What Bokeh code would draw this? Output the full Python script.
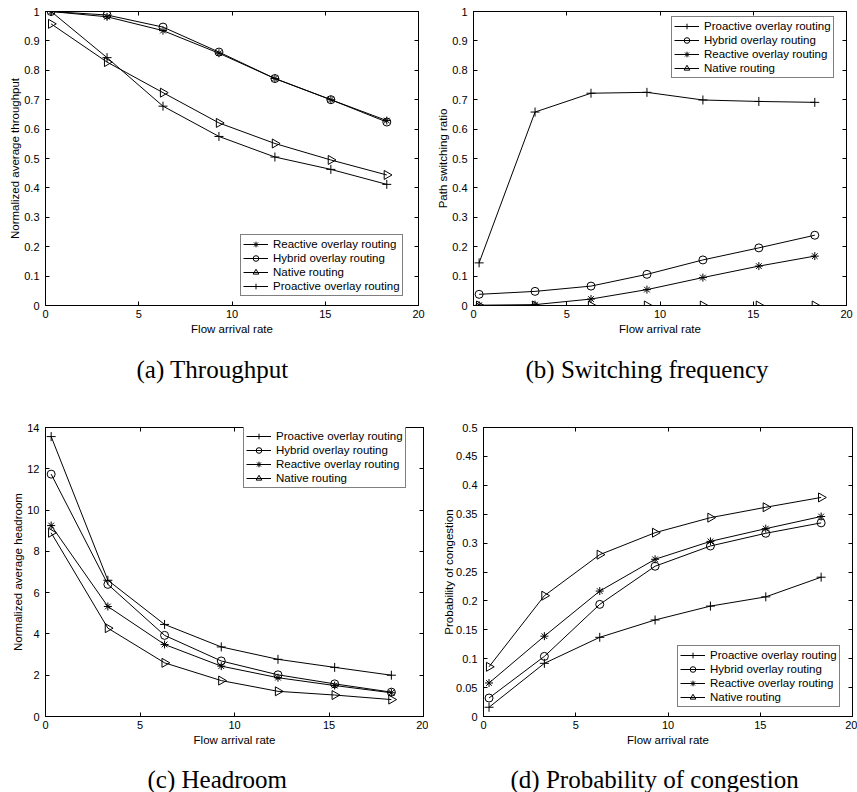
import numpy as np
from bokeh.plotting import figure
from bokeh.models import (Range1d, FixedTicker, LinearAxis, Legend, LegendItem,
                          Title, CustomJSTickFormatter)
from bokeh.layouts import column, row
from bokeh.embed import file_html
from bokeh.resources import INLINE

# ---------------- data ----------------
rate = [0.3, 3.3, 6.3, 9.3, 12.3, 15.3, 18.3]

thr_reactive = [1.0, 0.982, 0.935, 0.858, 0.772, 0.700, 0.629]
thr_hybrid = [1.0, 0.988, 0.947, 0.862, 0.772, 0.700, 0.624]
thr_native = [0.958, 0.828, 0.724, 0.621, 0.551, 0.495, 0.444]
thr_proactive = [1.0, 0.843, 0.678, 0.575, 0.505, 0.463, 0.412]

sw_proactive = [0.145, 0.658, 0.722, 0.725, 0.699, 0.694, 0.691]
sw_hybrid = [0.038, 0.048, 0.066, 0.106, 0.155, 0.196, 0.239]
sw_reactive = [0.001, 0.003, 0.022, 0.054, 0.095, 0.134, 0.168]
sw_native = [0.0, 0.0, 0.0, 0.0, 0.0, 0.0, 0.0]

hr_proactive = [13.56, 6.60, 4.46, 3.37, 2.77, 2.38, 2.00]
hr_hybrid = [11.74, 6.40, 3.93, 2.69, 2.02, 1.58, 1.18]
hr_reactive = [9.25, 5.33, 3.49, 2.44, 1.88, 1.50, 1.15]
hr_native = [8.90, 4.28, 2.60, 1.74, 1.22, 1.04, 0.82]

pc_proactive = [0.016, 0.092, 0.137, 0.167, 0.191, 0.207, 0.241]
pc_hybrid = [0.032, 0.104, 0.194, 0.260, 0.295, 0.317, 0.335]
pc_reactive = [0.058, 0.139, 0.217, 0.272, 0.303, 0.325, 0.346]
pc_native = [0.086, 0.209, 0.280, 0.318, 0.344, 0.362, 0.379]

x_ticks = [0, 5, 10, 15, 20]
y_ticks_ratio = [0, 0.1, 0.2, 0.3, 0.4, 0.5, 0.6, 0.7, 0.8, 0.9, 1]
y_labels_ratio = ["0", "0.1", "0.2", "0.3", "0.4", "0.5", "0.6", "0.7", "0.8", "0.9", "1"]
y_ticks_head = [0, 2, 4, 6, 8, 10, 12, 14]
y_labels_head = ["0", "2", "4", "6", "8", "10", "12", "14"]
y_ticks_prob = [0, 0.05, 0.1, 0.15, 0.2, 0.25, 0.3, 0.35, 0.4, 0.45, 0.5]
y_labels_prob = ["0", "0.05", "0.1", "0.15", "0.2", "0.25", "0.3", "0.35", "0.4", "0.45", "0.5"]

name_pro = "Proactive overlay routing"
name_hyb = "Hybrid overlay routing"
name_rea = "Reactive overlay routing"
name_nat = "Native routing"

SANS = "Liberation Sans"
SERIF = "Liberation Serif"

marker_styles = {
    "cross": dict(marker="cross", size=9),
    "circle": dict(marker="circle", size=8),
    "asterisk": dict(marker="asterisk", size=8),
    "triangle": dict(marker="triangle", size=9, angle=-np.pi / 2),
}


def make_panel(series, ylab, yrange, yticks, ylabels, caption, cap_offset, cap_gap,
               size, borders, leg_loc, ylab_standoff):
    w, h = size
    bl, br, bt, bb = borders
    p = figure(width=w, height=h, x_range=Range1d(0, 20), y_range=Range1d(*yrange),
               output_backend="svg", toolbar_location=None,
               min_border_left=bl, min_border_right=br,
               min_border_top=bt, min_border_bottom=bb)
    p.title.visible = False
    p.xgrid.visible = False
    p.ygrid.visible = False
    p.outline_line_color = "black"
    p.outline_line_width = 1
    p.background_fill_color = "white"
    p.border_fill_color = "white"

    xa = p.xaxis[0]
    xa.ticker = FixedTicker(ticks=x_ticks)
    xa.axis_label = "Flow arrival rate"
    ya = p.yaxis[0]
    ya.ticker = FixedTicker(ticks=yticks)
    ya.major_label_overrides = dict(zip(yticks, ylabels))
    ya.axis_label = ylab
    for ax, st in ((xa, 4), (ya, 6)):
        ax.major_tick_in = 4
        ax.major_tick_out = 0
        ax.minor_tick_in = 0
        ax.minor_tick_out = 0
        ax.axis_line_color = "black"
        ax.major_tick_line_color = "black"
        ax.major_label_text_font = SANS
        ax.major_label_text_font_size = "11px"
        ax.major_label_text_color = "black"
        ax.major_label_standoff = st
        ax.axis_label_text_font = SANS
        ax.axis_label_text_font_size = "11.5px"
        ax.axis_label_text_font_style = "normal"
        ax.axis_label_text_color = "black"
    xa.axis_label_standoff = 2
    ya.axis_label_standoff = ylab_standoff

    blank = CustomJSTickFormatter(code="return '';")
    for loc, ticks in (("above", x_ticks), ("right", yticks)):
        ax = LinearAxis(ticker=FixedTicker(ticks=ticks), formatter=blank,
                        major_tick_in=4, major_tick_out=0,
                        minor_tick_in=0, minor_tick_out=0,
                        major_label_standoff=0, axis_line_color="black",
                        major_tick_line_color="black")
        p.add_layout(ax, loc)

    items = []
    for label, vals, mk in series:
        lr = p.line(rate, vals, line_color="black", line_width=1)
        sr = p.scatter(rate, vals, line_color="black", fill_color=None,
                       line_width=1, **marker_styles[mk])
        items.append(LegendItem(label=label, renderers=[lr, sr]))
    leg = Legend(items=items, location=leg_loc,
                 border_line_color="black", border_line_width=1,
                 background_fill_color="white", background_fill_alpha=1,
                 label_text_font=SANS, label_text_font_size="11.5px",
                 label_text_color="black",
                 glyph_width=25, glyph_height=14, label_height=13,
                 label_standoff=5, spacing=0, padding=2, margin=0)
    p.add_layout(leg)

    # invisible spacer between the x axis and the caption
    spacer = LinearAxis(ticker=FixedTicker(ticks=x_ticks), formatter=blank,
                        major_tick_in=0, major_tick_out=cap_gap,
                        minor_tick_in=0, minor_tick_out=0,
                        major_tick_line_color=None, axis_line_color=None,
                        major_label_standoff=0, major_label_text_font_size="0px")
    p.add_layout(spacer, "below")
    p.add_layout(Title(text=caption, align="left", offset=cap_offset,
                       text_font=SERIF, text_font_size="25px",
                       text_font_style="normal", text_color="black",
                       standoff=0), "below")
    return p


pa = make_panel(
    [(name_rea, thr_reactive, "asterisk"), (name_hyb, thr_hybrid, "circle"),
     (name_nat, thr_native, "triangle"), (name_pro, thr_proactive, "cross")],
    "Normalized average throughput", (0, 1), y_ticks_ratio, y_labels_ratio,
    "(a) Throughput", 91, 16, (428, 400), (45, 10, 11, 95), (195, 9), 0)

pb = make_panel(
    [(name_pro, sw_proactive, "cross"), (name_hyb, sw_hybrid, "circle"),
     (name_rea, sw_reactive, "asterisk"), (name_nat, sw_native, "triangle")],
    "Path switching ratio", (0, 1), y_ticks_ratio, y_labels_ratio,
    "(b) Switching frequency", 52, 16, (429, 400), (45, 11, 11, 95), (198, 227), 0)

pc = make_panel(
    [(name_pro, hr_proactive, "cross"), (name_hyb, hr_hybrid, "circle"),
     (name_rea, hr_reactive, "asterisk"), (name_nat, hr_native, "triangle")],
    "Normalized average headroom", (0, 14), y_ticks_head, y_labels_head,
    "(c) Headroom", 102, 15, (428, 392), (45, 5, 20, 76), (198, 228), 0)

pd_ = make_panel(
    [(name_pro, pc_proactive, "cross"), (name_hyb, pc_hybrid, "circle"),
     (name_rea, pc_reactive, "asterisk"), (name_nat, pc_native, "triangle")],
    "Probability of congestion", (0, 0.5), y_ticks_prob, y_labels_prob,
    "(d) Probability of congestion", 27, 15, (429, 392), (55, 5, 27, 75), (194, 9), -2)

layout = column(row(pa, pb), row(pc, pd_))

open("out.html", "w").write(file_html(layout, INLINE))
